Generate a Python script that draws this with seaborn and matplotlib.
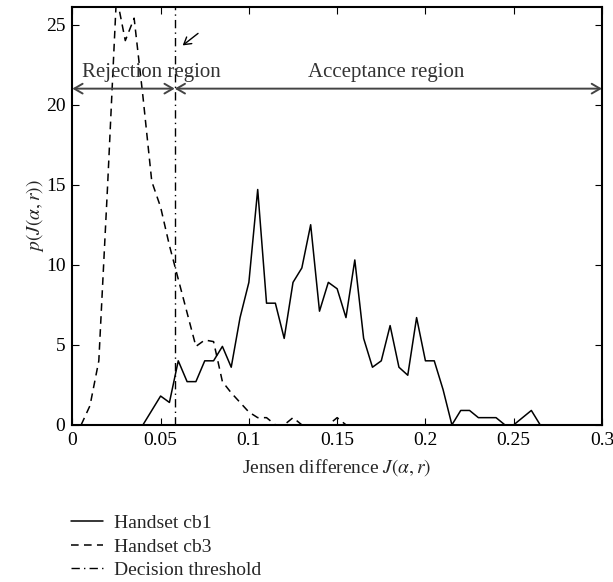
import numpy as np
import pandas as pd
import matplotlib
matplotlib.use("Agg")
import matplotlib.pyplot as plt
import seaborn as sns

# ---- data ----
cb1_x = [0.04, 0.045, 0.05, 0.055, 0.06, 0.065, 0.07, 0.075, 0.08, 0.085, 0.09, 0.095,
         0.10, 0.105, 0.11, 0.115, 0.12, 0.125, 0.13, 0.135, 0.14, 0.145, 0.15, 0.155,
         0.16, 0.165, 0.17, 0.175, 0.18, 0.185, 0.19, 0.195, 0.20, 0.205, 0.21, 0.215,
         0.22, 0.225, 0.23, 0.235, 0.24, 0.245, 0.25, 0.255, 0.26, 0.265]
cb1_y = [0.0, 0.9, 1.8, 1.4, 4.0, 2.7, 2.7, 4.0, 4.0, 4.9, 3.6, 6.7,
         8.9, 14.7, 7.6, 7.6, 5.4, 8.9, 9.8, 12.5, 7.1, 8.9, 8.5, 6.7,
         10.3, 5.4, 3.6, 4.0, 6.2, 3.6, 3.1, 6.7, 4.0, 4.0, 2.2, 0.0,
         0.9, 0.9, 0.45, 0.45, 0.45, 0.0, 0.0, 0.45, 0.9, 0.0]

cb3_x = [0.005, 0.01, 0.015, 0.02, 0.025, 0.03, 0.035, 0.04, 0.045, 0.05, 0.055, 0.06,
         0.065, 0.07, 0.075, 0.08, 0.085, 0.09, 0.095, 0.10, 0.105, 0.11, 0.115, 0.12,
         0.125, 0.13, 0.135, 0.14, 0.145, 0.15, 0.155, 0.16]
cb3_y = [0.0, 1.2, 4.0, 15.0, 26.8, 24.0, 25.4, 20.5, 15.2, 13.6, 11.2, 9.1,
         7.0, 4.9, 5.3, 5.2, 2.7, 2.0, 1.4, 0.8, 0.45, 0.45, 0.0, 0.0,
         0.45, 0.0, 0.0, 0.0, 0.0, 0.45, 0.0, 0.0]

threshold = 0.058
x_ticks = [0, 0.05, 0.1, 0.15, 0.2, 0.25, 0.3]
x_tick_labels = ["0", "0.05", "0.1", "0.15", "0.2", "0.25", "0.3"]
y_ticks = [0, 5, 10, 15, 20, 25]
series_labels = ["Handset cb1", "Handset cb3", "Decision threshold"]
region_labels = ["Rejection region", "Acceptance region"]

# ---- style ----
sns.set_style("ticks")
plt.rcParams["font.family"] = ["Liberation Serif", "DejaVu Serif"]
plt.rcParams["mathtext.fontset"] = "stix"
plt.rcParams["xtick.direction"] = "in"
plt.rcParams["ytick.direction"] = "in"

fig = plt.figure(figsize=(6.13, 5.82), dpi=100)
ax = fig.add_axes([0.118, 0.270, 0.864, 0.718])

df1 = pd.DataFrame({"x": cb1_x, "y": cb1_y})
df3 = pd.DataFrame({"x": cb3_x, "y": cb3_y})
sns.lineplot(data=df1, x="x", y="y", ax=ax, color="black", lw=1.1,
             label=series_labels[0])
sns.lineplot(data=df3, x="x", y="y", ax=ax, color="black", lw=1.1,
             dashes=False, label=series_labels[1])
ax.lines[1].set_dashes([5, 3.5])
ax.axvline(threshold, color="black", lw=1.0, ls=(0, (6, 3, 1, 3)),
           label=series_labels[2])

ax.set_xlim(0, 0.3)
ax.set_ylim(0, 26.1)
ax.set_xticks(x_ticks)
ax.set_xticklabels(x_tick_labels)
ax.set_yticks(y_ticks)
ax.tick_params(axis="both", labelsize=14, length=5, width=0.8,
               top=True, right=True, colors="black", pad=5)
for s in ax.spines.values():
    s.set_linewidth(1.5)
    s.set_color("black")

ax.set_xlabel(r"Jensen difference $J(\alpha, r)$", fontsize=14, labelpad=6)
ax.set_ylabel(r"$p(J(\alpha, r))$", fontsize=14, labelpad=0)

# region arrows
arrow_kw = dict(arrowstyle="<->,head_length=0.6,head_width=0.35", color="#444444",
                lw=1.4, shrinkA=0, shrinkB=0)
ax.annotate("", xy=(0.0, 21), xytext=(threshold, 21), arrowprops=arrow_kw)
ax.annotate("", xy=(threshold, 21), xytext=(0.3, 21), arrowprops=arrow_kw)
ax.text(0.0052, 22.0, region_labels[0], fontsize=15, color="#333333",
        ha="left", va="center")
ax.text(0.178, 22.0, region_labels[1], fontsize=15, color="#333333",
        ha="center", va="center")
ax.annotate("", xy=(0.0625, 23.7), xytext=(0.0712, 24.45),
            arrowprops=dict(arrowstyle="->,head_length=0.5,head_width=0.3",
                            color="black", lw=1.0, shrinkA=0, shrinkB=0))

ax.get_legend().remove()
handles, labels = ax.get_legend_handles_labels()
fig.legend(handles, labels, loc="upper left", bbox_to_anchor=(0.116, 0.116),
           frameon=False, fontsize=14, handlelength=1.65, handletextpad=0.55,
           labelspacing=0.3, borderpad=0, borderaxespad=0)

fig.savefig("out.png", dpi=100)
